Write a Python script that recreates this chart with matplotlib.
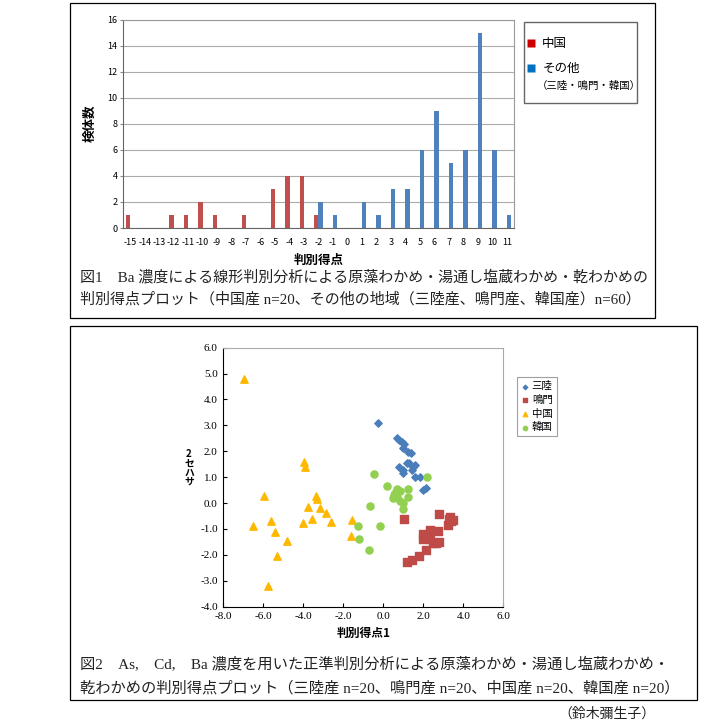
import matplotlib
matplotlib.use('Agg')
import matplotlib.pyplot as plt
from matplotlib.patches import Rectangle
from matplotlib.lines import Line2D
import numpy as np

JP = ['Noto Sans CJK JP', 'DejaVu Sans']
SERIF_JP = ['Liberation Serif', 'Noto Sans CJK JP']
plt.rcParams['font.family'] = JP
plt.rcParams['axes.unicode_minus'] = False

# ---- figure 1: histogram of discriminant scores ----
score_cats = list(range(-15, 12))
china_counts = {-15: 1, -12: 1, -11: 1, -10: 2, -9: 1, -7: 1, -5: 3, -4: 4, -3: 4, -2: 1}
other_counts = {-2: 2, -1: 1, 1: 2, 2: 1, 3: 3, 4: 3, 5: 6, 6: 9, 7: 5, 8: 6, 9: 15, 10: 6, 11: 1}
china_y = [china_counts.get(c, 0) for c in score_cats]
other_y = [other_counts.get(c, 0) for c in score_cats]

# ---- figure 2: canonical discriminant scores ----
sanriku_x = [-0.28, 0.67, 0.8, 0.92, 1.05, 0.97, 1.22, 1.37, 1.17, 1.3,
             0.78, 0.97, 1.0, 1.42, 1.5, 1.58, 1.58, 1.85, 2.12, 2.0]
sanriku_y = [3.1, 2.5, 2.42, 2.35, 2.28, 2.12, 1.96, 1.92, 1.54, 1.55,
             1.38, 1.26, 1.17, 1.28, 1.4, 1.48, 0.99, 1.02, 0.6, 0.5]
naruto_x = [1.05, 2.77, 3.33, 3.47, 3.4, 3.25, 3.3, 2.33, 2.72, 2.0,
            1.97, 2.05, 2.33, 2.5, 2.77, 2.62, 2.15, 1.8, 1.45, 1.2]
naruto_y = [-0.6, -0.44, -0.53, -0.65, -0.7, -0.85, -0.6, -1.05, -1.08, -1.2,
            -1.4, -1.3, -1.38, -1.53, -1.52, -1.55, -1.81, -2.06, -2.18, -2.27]
china_x = [-6.95, -3.95, -3.92, -5.97, -6.52, -5.6, -5.4, -4.83, -5.3, -5.75,
           -4.0, -3.78, -3.58, -3.37, -3.32, -3.15, -2.85, -2.63, -1.55, -1.62]
china_sy = [4.8, 1.58, 1.4, 0.29, -0.87, -0.68, -1.13, -1.46, -2.06, -3.22,
            -0.76, -0.14, -0.6, 0.29, 0.16, -0.2, -0.4, -0.73, -0.67, -1.27]
korea_x = [-0.45, 0.2, -0.67, -1.25, -0.17, -1.22, -0.7, 2.17,
           0.67, 0.75, 0.83, 0.6, 0.55, 0.5, 0.7, 0.85, 1.0, 1.25, 1.25, 0.97]
korea_y = [1.12, 0.66, -0.11, -0.87, -0.87, -1.39, -1.81, 1.01,
           0.54, 0.45, 0.47, 0.38, 0.3, 0.18, 0.25, 0.1, 0.02, 0.22, 0.53, -0.23]

W, H = 705, 724
fig = plt.figure(figsize=(W / 100, H / 100), dpi=100)


def fx(px):
    return px / W


def fy(py):
    return 1 - py / H


def frame(x0, y0, x1, y1, color='black', lw=0.9):
    fig.patches.append(Rectangle((fx(x0), fy(y1)), fx(x1) - fx(x0), fy(y0) - fy(y1),
                                 transform=fig.transFigure, fill=False,
                                 edgecolor=color, linewidth=lw))


frame(70, 3, 655, 318)
frame(70, 326, 697, 700)

# top chart
ax1 = fig.add_axes([fx(123), fy(228), fx(514) - fx(123), fy(19.5) - fy(228)])
xs = np.array(score_cats)
ax1.bar(xs - 0.15, china_y, width=0.3, color='#C0504D', zorder=3)
ax1.bar(xs + 0.15, other_y, width=0.3, color='#4F81BD', zorder=3)
ax1.set_xlim(-15.5, 11.5)
ax1.set_ylim(0, 16)
ax1.set_yticks(range(0, 17, 2))
ax1.set_xticks(score_cats)
ax1.tick_params(axis='both', labelsize=6.5, length=2, color='#888888', pad=2)
ax1.tick_params(axis='x', length=0, pad=7)
ax1.grid(axis='y', color='#aaaaaa', linewidth=0.8, zorder=0)
for s in ax1.spines.values():
    s.set_color('#999999')
ax1.spines['left'].set_color('#666666')
ax1.spines['bottom'].set_color('#666666')
ax1.set_ylabel('検体数', fontsize=9, fontweight='bold', labelpad=8)
ax1.set_xlabel('判別得点', fontsize=9, fontweight='bold', labelpad=5)

frame(524, 22, 637, 103, color='#666666', lw=1.0)
leg1 = [Line2D([], [], marker='s', color='none', markerfacecolor='#CC0000',
               markeredgecolor='none', markersize=5.5, label='中国'),
        Line2D([], [], marker='s', color='none', markerfacecolor='#0070C0',
               markeredgecolor='none', markersize=5.5, label='その他')]
fig.legend(handles=leg1, loc='upper left', bbox_to_anchor=(fx(526), fy(37)),
           frameon=False, fontsize=9, handlelength=0.8, handletextpad=0.5,
           labelspacing=0.96, borderpad=0, borderaxespad=0)
fig.text(fx(537), fy(86), '（三陸・鳴門・韓国）', fontsize=7.5, va='center', ha='left')

fig.text(fx(80), fy(277), '図1　Ba 濃度による線形判別分析による原藻わかめ・湯通し塩蔵わかめ・乾わかめの',
         fontsize=10.8, family=SERIF_JP, va='center', ha='left', color='#222222')
fig.text(fx(80), fy(299), '判別得点プロット（中国産 n=20、その他の地域（三陸産、鳴門産、韓国産）n=60）',
         fontsize=10.8, family=SERIF_JP, va='center', ha='left', color='#222222')

# bottom chart
ax2 = fig.add_axes([fx(223.3), fy(606.7), fx(503.3) - fx(223.3), fy(347.7) - fy(606.7)])
ax2.scatter(sanriku_x, sanriku_y, marker='D', s=14, color='#4A7EBB', label='三陸', zorder=3)
ax2.scatter(naruto_x, naruto_y, marker='s', s=26, color='#BE4B48', label='鳴門', zorder=3)
ax2.scatter(china_x, china_sy, marker='^', s=28, color='#FFB800', label='中国', zorder=3)
ax2.scatter(korea_x, korea_y, marker='o', s=26, color='#92D050', label='韓国', zorder=3)
ax2.set_xlim(-8, 6)
ax2.set_ylim(-4, 6)
ax2.set_xticks(np.arange(-8, 6.1, 2))
ax2.set_yticks(np.arange(-4, 6.1, 1))
ax2.xaxis.set_major_formatter(matplotlib.ticker.FormatStrFormatter('%.1f'))
ax2.yaxis.set_major_formatter(matplotlib.ticker.FormatStrFormatter('%.1f'))
for lab in ax2.get_xticklabels() + ax2.get_yticklabels():
    lab.set_family('Liberation Serif')
ax2.tick_params(axis='both', labelsize=8, length=3, direction='in', pad=4)
for s in ax2.spines.values():
    s.set_color('#aaaaaa')
ax2.spines['left'].set_color('black')
ax2.spines['bottom'].set_color('black')
ax2.set_xlabel('判別得点1', fontsize=8.5, fontweight='bold', labelpad=4)
fig.text(fx(189), fy(468), '2\nセ\nハ\nサ', fontsize=7, fontweight='bold',
         va='center', ha='center', linespacing=0.9)

lg2 = fig.legend(loc='upper left', bbox_to_anchor=(fx(512), fy(372)), frameon=True,
                 fontsize=7.5, handlelength=0.6, handletextpad=0.4, labelspacing=0.35,
                 borderpad=0.4, fancybox=False, markerscale=0.6)
lg2.get_frame().set_edgecolor('#888888')
lg2.get_frame().set_linewidth(0.8)

fig.text(fx(80), fy(665), '図2　As,　Cd,　Ba 濃度を用いた正準判別分析による原藻わかめ・湯通し塩蔵わかめ・',
         fontsize=11, family=SERIF_JP, va='center', ha='left', color='#222222')
fig.text(fx(80), fy(688), '乾わかめの判別得点プロット（三陸産 n=20、鳴門産 n=20、中国産 n=20、韓国産 n=20）',
         fontsize=11, family=SERIF_JP, va='center', ha='left', color='#222222')
fig.text(fx(655), fy(714), '（鈴木彌生子）', fontsize=10, family=SERIF_JP, va='center',
         ha='right', color='#222222')

fig.savefig('out.png', dpi=100)
